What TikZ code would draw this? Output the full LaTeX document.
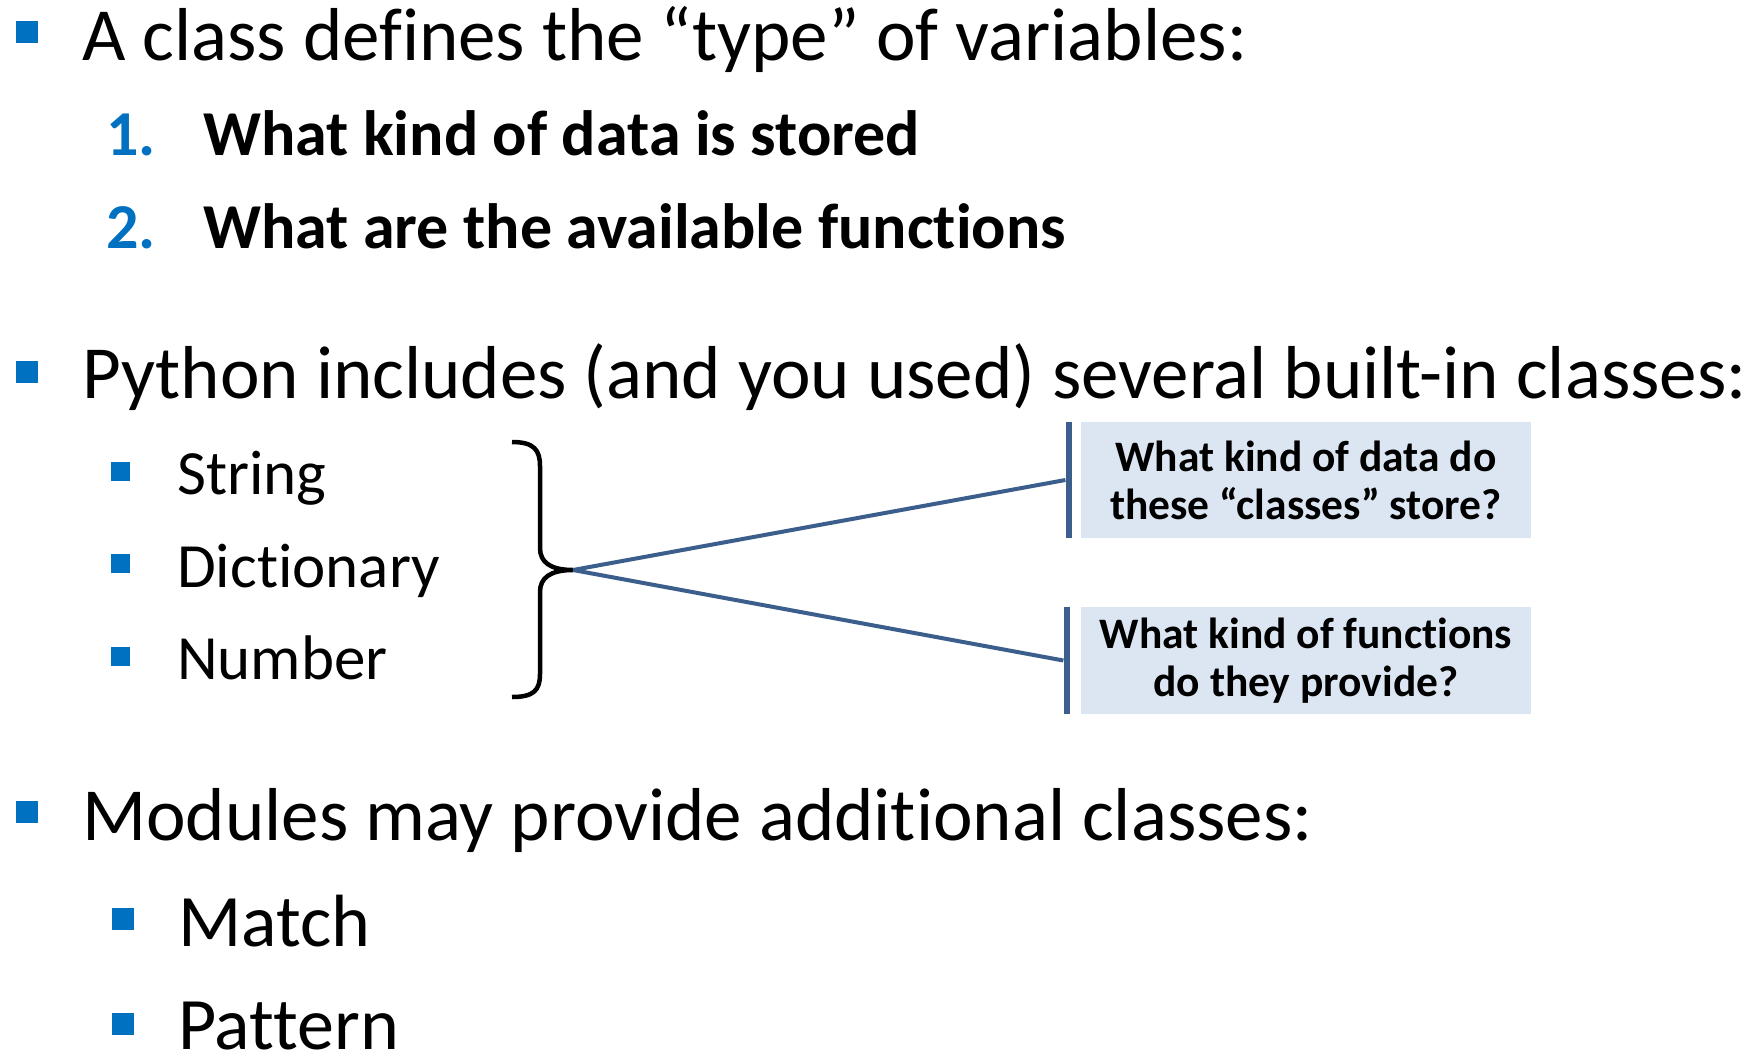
\documentclass[tikz,border=0pt]{standalone}
\usepackage{fontspec}
\setmainfont{Carlito}[Ligatures={NoCommon,NoContextual}]
\usetikzlibrary{positioning}

\definecolor{bulletblue}{HTML}{0070C0}
\definecolor{linkblue}{HTML}{3B5E8C}
\definecolor{boxblue}{HTML}{DCE6F2}

\tikzset{
  sq/.style={fill=bulletblue,inner sep=0pt,minimum size=#1},
  lone/.style={anchor=base west,inner sep=0pt,font=\fontsize{75}{90}\selectfont},
  ltwo/.style={anchor=base west,inner sep=0pt,font=\fontsize{63}{75}\selectfont},
  lbig/.style={anchor=base west,inner sep=0pt,font=\fontsize{74}{89}\selectfont},
  num/.style={anchor=base west,inner sep=0pt,text=bulletblue,font=\fontsize{64}{77}\selectfont\bfseries},
  item/.style={anchor=base west,inner sep=0pt,font=\fontsize{64}{77}\selectfont\bfseries},
  qbox/.style={fill=boxblue,inner sep=0pt,minimum width=450pt,align=center,font=\fontsize{43.5}{48}\selectfont\bfseries},
  qbar/.style={fill=linkblue,inner sep=0pt,minimum width=6pt},
  link/.style={draw=linkblue,line width=4pt}
}

\begin{document}
\begin{tikzpicture}[x=1pt,y=-1pt]
  \useasboundingbox (0,0) rectangle (1761,1053);

  % first point and its numbered list
  \node[sq=22pt] (b1) at (27,32) {};
  \node[lone] (t1) at (82,60) {A class defines the “type” of variables:};
  \node[num] (n1) at (106,155) {1.};
  \node[item] (i1) at (203,155) {What kind of data is stored};
  \node[num] (n2) at (106,248) {2.};
  \node[item] (i2) at (203,248) {What are the available functions};

  % built-in classes
  \node[sq=22pt] (b2) at (27,372) {};
  \node[lone] (t2) at (82,398) {Python includes (and you used) several built-in classes:};
  \node[sq=19pt] (s1) at (120.5,471.5) {};
  \node[ltwo] (str) at (177,494) {String};
  \node[sq=19pt] (s2) at (120.5,563.5) {};
  \node[ltwo] (dict) at (177,587) {Dictionary};
  \node[sq=19pt] (s3) at (120.5,656.5) {};
  \node[ltwo] (numb) at (177,679) {Number};

  % brace and the two questions
  \draw[line width=4.5pt] (512,442) .. controls (534,442) and (540,450) .. (540,466)
    -- (540,548) .. controls (540,562) and (550,570) .. (573,570)
    .. controls (550,570) and (540,578) .. (540,592)
    -- (540,674) .. controls (540,690) and (534,697) .. (512,697);
  \coordinate (tip) at (573,570);

  \node[qbox,minimum height=116pt] (q1) at (1306,480) {What kind of data do\\these “classes” store?};
  \node[qbox,minimum height=107pt] (q2) at (1306,660.5) {What kind of functions\\do they provide?};
  \node[qbar,minimum height=116pt,left=9pt of q1] (bar1) {};
  \node[qbar,minimum height=107pt,left=11pt of q2] (bar2) {};
  \draw[link] (tip) -- (bar1.west);
  \draw[link] (tip) -- (bar2.west);

  % module classes
  \node[sq=22pt] (b3) at (27,812) {};
  \node[lone] (t3) at (82,840) {Modules may provide additional classes:};
  \node[sq=22pt] (m1) at (123,919) {};
  \node[lbig] (match) at (178,946) {Match};
  \node[sq=22pt] (m2) at (123,1024) {};
  \node[lbig] (pat) at (178,1049) {Pattern};
\end{tikzpicture}
\end{document}
